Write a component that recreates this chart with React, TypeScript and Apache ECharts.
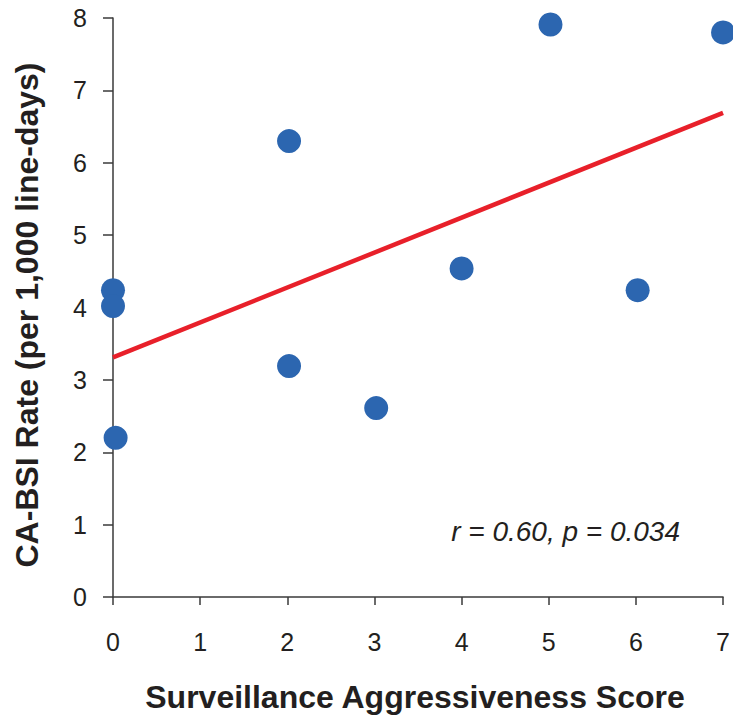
import React, { useEffect, useRef } from "react";
import * as echarts from "echarts";

const scoreValues = [0, 0, 0.03, 2.02, 2.02, 3.02, 4.0, 5.02, 6.02, 7.0];
const rateValues = [4.24, 4.02, 2.2, 6.3, 3.19, 2.61, 4.54, 7.91, 4.24, 7.8];
const trendX = [0, 7];
const trendY = [3.31, 6.69];
const xTicks = [0, 1, 2, 3, 4, 5, 6, 7];
const yTicks = [0, 1, 2, 3, 4, 5, 6, 7, 8];
const xTitle = "Surveillance Aggressiveness Score";
const yTitle = "CA-BSI Rate (per 1,000 line-days)";
const statText = "r = 0.60, p = 0.034";

const FONT = "'Liberation Sans', Arial, sans-serif";

export default function App() {
  const ref = useRef<HTMLDivElement>(null);
  useEffect(() => {
    if (!ref.current) return;
    const chart = echarts.init(ref.current, undefined, { renderer: "svg" });
    const axisLineStyle = { color: "#3a3a3a", width: 1.5 };
    chart.setOption({
      animation: false,
      backgroundColor: "#ffffff",
      grid: { left: 113, right: 6, top: 18, bottom: 119, containLabel: false },
      xAxis: {
        type: "value",
        min: xTicks[0],
        max: xTicks[xTicks.length - 1],
        interval: 1,
        splitLine: { show: false },
        axisLine: { show: true, lineStyle: axisLineStyle, onZero: false },
        axisTick: { show: true, length: 8, lineStyle: axisLineStyle },
        axisLabel: {
          margin: 32,
          fontSize: 25,
          color: "#231f20",
          fontFamily: FONT,
          showMaxLabel: true,
          showMinLabel: true,
        },
      },
      yAxis: {
        type: "value",
        min: yTicks[0],
        max: yTicks[yTicks.length - 1],
        interval: 1,
        splitLine: { show: false },
        axisLine: { show: true, lineStyle: axisLineStyle, onZero: false },
        axisTick: { show: true, length: 10, lineStyle: axisLineStyle },
        axisLabel: {
          margin: 26,
          fontSize: 25,
          color: "#231f20",
          fontFamily: FONT,
        },
      },
      series: [
        {
          type: "line",
          data: trendX.map((x, i) => [x, trendY[i]]),
          symbol: "none",
          lineStyle: { color: "#e8202a", width: 4.5 },
          z: 2,
        },
        {
          type: "scatter",
          data: scoreValues.map((x, i) => [x, rateValues[i]]),
          symbol: "circle",
          symbolSize: 24,
          itemStyle: { color: "#2c66b0", opacity: 1 },
          clip: false,
          z: 3,
        },
      ],
      graphic: [
        {
          type: "text",
          right: 53,
          top: 517,
          style: {
            text: statText,
            font: `italic 28px ${FONT}`,
            fill: "#231f20",
          },
        },
        {
          type: "text",
          x: 415,
          y: 697,
          style: {
            text: xTitle,
            font: `bold 32px ${FONT}`,
            fill: "#231f20",
            align: "center",
            verticalAlign: "middle",
          },
        },
        {
          type: "text",
          x: 27,
          y: 315,
          rotation: Math.PI / 2,
          style: {
            text: yTitle,
            font: `bold 32px ${FONT}`,
            fill: "#231f20",
            align: "center",
            verticalAlign: "middle",
          },
        },
      ],
    });
    return () => chart.dispose();
  }, []);
  return (
    <div
      ref={ref}
      style={{ position: "absolute", left: 0, top: 0, width: 733, height: 716 }}
    />
  );
}
